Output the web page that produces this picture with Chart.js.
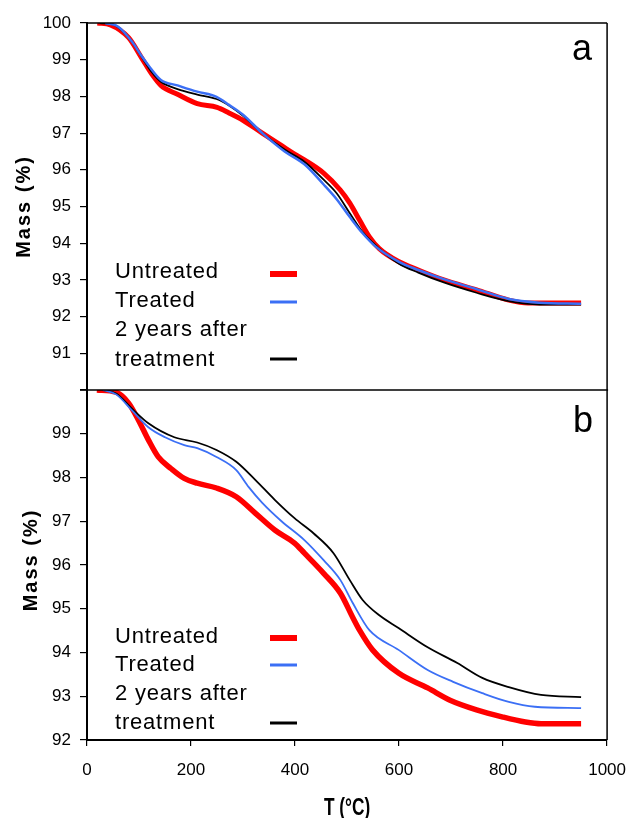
<!DOCTYPE html>
<html>
<head>
<meta charset="utf-8">
<script src="https://cdn.jsdelivr.net/npm/chart.js@4.4.1/dist/chart.umd.min.js"></script>
<style>
  html, body { margin: 0; padding: 0; background: #fff; }
  #wrap { position: relative; width: 640px; height: 818px; }
</style>
</head>
<body>
<div id="wrap"><canvas id="c" width="640" height="818"></canvas></div>
<script>
// ---------- DATA ----------
const seriesNames = ['Untreated', 'Treated', '2 years after treatment'];
const seriesColors = ['#ff0000', '#3b6ff5', '#000000'];
const panelLabels = ['a', 'b'];
const tempTicks = [0, 200, 400, 600, 800, 1000];
const massTicksA = [90, 91, 92, 93, 94, 95, 96, 97, 98, 99, 100];
const massTicksB = [92, 93, 94, 95, 96, 97, 98, 99, 100];

// Panel a
const aUntreatedT = [20, 45, 80, 105, 125, 142, 175, 212, 250, 273, 300, 337, 375, 400, 418, 455, 487, 505, 524, 543, 562, 599, 637, 686, 749, 811, 848, 950];
const aUntreatedM = [100, 99.95, 99.6, 99.05, 98.6, 98.3, 98.05, 97.8, 97.7, 97.55, 97.35, 97.0, 96.65, 96.42, 96.27, 95.91, 95.45, 95.1, 94.63, 94.17, 93.85, 93.5, 93.27, 93.0, 92.73, 92.45, 92.37, 92.37];
const aTreatedT = [35, 60, 86, 105, 118, 142, 174, 212, 249, 273, 300, 337, 380, 418, 455, 480, 505, 530, 554, 599, 637, 686, 749, 811, 870, 950];
const aTreatedM = [100, 99.9, 99.5, 99.1, 98.85, 98.45, 98.3, 98.13, 97.99, 97.77, 97.5, 97.0, 96.5, 96.15, 95.6, 95.2, 94.72, 94.27, 93.92, 93.5, 93.27, 93.02, 92.75, 92.48, 92.38, 92.35];
const a2yearsT = [25, 55, 86, 105, 125, 142, 174, 212, 249, 273, 300, 337, 380, 418, 455, 480, 505, 530, 562, 599, 637, 686, 749, 811, 870, 950];
const a2yearsM = [100, 99.93, 99.5, 99.08, 98.65, 98.4, 98.2, 98.05, 97.93, 97.75, 97.47, 97.0, 96.55, 96.22, 95.73, 95.36, 94.82, 94.3, 93.85, 93.45, 93.2, 92.93, 92.65, 92.42, 92.33, 92.33];

// Panel b
const bUntreatedT = [19, 56, 80, 99, 118, 137, 162, 187, 212, 249, 287, 324, 361, 399, 418, 455, 487, 511, 524, 549, 599, 655, 698, 749, 798, 843, 873, 950];
const bUntreatedM = [100, 99.95, 99.7, 99.31, 98.86, 98.47, 98.2, 97.98, 97.87, 97.76, 97.56, 97.18, 96.8, 96.5, 96.27, 95.81, 95.36, 94.8, 94.51, 94.06, 93.53, 93.19, 92.91, 92.69, 92.53, 92.41, 92.37, 92.37];
const bTreatedT = [30, 56, 86, 118, 150, 187, 212, 249, 287, 311, 337, 374, 418, 455, 487, 511, 543, 599, 655, 704, 760, 811, 861, 950];
const bTreatedM = [100, 99.9, 99.54, 99.15, 98.92, 98.74, 98.67, 98.47, 98.17, 97.78, 97.42, 97.0, 96.57, 96.11, 95.66, 95.13, 94.51, 94.06, 93.6, 93.33, 93.07, 92.87, 92.76, 92.73];
const b2yearsT = [30, 56, 86, 118, 168, 212, 249, 287, 324, 361, 399, 436, 474, 505, 530, 562, 599, 655, 712, 760, 811, 873, 950];
const b2yearsM = [100, 99.92, 99.58, 99.24, 98.92, 98.8, 98.63, 98.36, 97.94, 97.49, 97.07, 96.72, 96.27, 95.66, 95.2, 94.85, 94.56, 94.12, 93.76, 93.42, 93.21, 93.03, 92.98];

// ---------- BUILD ----------
const pts = (T, M) => T.map((t, i) => ({ x: t, y: M[i] }));
const tickFont = { family: "'Liberation Sans Narrow', 'Liberation Sans', Arial, sans-serif", size: 17 };

function ds(label, T, M, color, width, axis, order) {
  return {
    label, data: pts(T, M), borderColor: color, backgroundColor: color,
    borderWidth: width, pointRadius: 0, fill: false,
    cubicInterpolationMode: 'monotone', yAxisID: axis, xAxisID: 'x', order
  };
}

const datasets = [
  ds(seriesNames[1], aTreatedT, aTreatedM, seriesColors[1], 2.5, 'ya', 0),
  ds(seriesNames[2], a2yearsT, a2yearsM, seriesColors[2], 1.8, 'ya', 1),
  ds(seriesNames[0], aUntreatedT, aUntreatedM, seriesColors[0], 5, 'ya', 2),
  ds(seriesNames[1], bTreatedT, bTreatedM, seriesColors[1], 1.8, 'yb', 0),
  ds(seriesNames[2], b2yearsT, b2yearsM, seriesColors[2], 1.8, 'yb', 1),
  ds(seriesNames[0], bUntreatedT, bUntreatedM, seriesColors[0], 5.5, 'yb', 2)
];

function yAxis(min, max, tickList, hideVal, weight) {
  return {
    type: 'linear', position: 'left', stack: 'mass', stackWeight: weight,
    min, max,
    afterBuildTicks: s => { s.ticks = tickList.map(v => ({ value: v })); },
    afterFit: s => { s.width = 87; },
    grid: { drawOnChartArea: false, drawTicks: true, tickLength: 7, color: '#000', lineWidth: 1.2 },
    border: { display: true, color: '#000', width: 2 },
    ticks: { color: '#000', font: tickFont, padding: 9, autoSkip: false,
             callback: v => (v === hideVal ? '' : String(v)) }
  };
}

const framePlugin = {
  id: 'frame',
  afterDraw(chart) {
    const ctx = chart.ctx;
    const ca = chart.chartArea;
    const ya = chart.scales.ya, yb = chart.scales.yb;
    ctx.save();
    ctx.strokeStyle = '#000';
    ctx.lineWidth = 1.5;
    ctx.beginPath();
    ctx.moveTo(ca.left, ya.top); ctx.lineTo(ca.right, ya.top);
    ctx.moveTo(ca.right, ya.top); ctx.lineTo(ca.right, yb.bottom);
    ctx.moveTo(ca.left - 7, ya.bottom); ctx.lineTo(ca.right + 1, ya.bottom);
    ctx.stroke();
    ctx.restore();

    // legends
    const legendText = ['Untreated', 'Treated', '2 years after', 'treatment'];
    function legend(topY, baseOffsets, lineOffsets, widths) {
      ctx.save();
      ctx.fillStyle = '#000';
      ctx.font = "22px 'Liberation Sans', Arial, sans-serif";
      ctx.letterSpacing = '0.8px';
      ctx.textAlign = 'left';
      ctx.textBaseline = 'alphabetic';
      legendText.forEach((t, i) => ctx.fillText(t, ca.left + 28, topY + baseOffsets[i]));
      ctx.letterSpacing = '0px';
      [0, 1, 2].forEach(i => {
        ctx.strokeStyle = seriesColors[i];
        ctx.lineWidth = widths[i];
        ctx.beginPath();
        ctx.moveTo(ca.left + 183, topY + lineOffsets[i]);
        ctx.lineTo(ca.left + 210, topY + lineOffsets[i]);
        ctx.stroke();
      });
      ctx.restore();
    }
    legend(ya.top, [255, 284, 313, 343], [251, 279, 336], [6, 3, 3]);
    legend(yb.top, [253, 281, 310, 339], [248, 275, 333], [6, 3, 3]);

    // panel letters
    ctx.save();
    ctx.fillStyle = '#000';
    ctx.font = "36px 'Liberation Sans', Arial, sans-serif";
    ctx.textAlign = 'right';
    ctx.textBaseline = 'alphabetic';
    ctx.fillText(panelLabels[0], ca.right - 15, ya.top + 37);
    ctx.fillText(panelLabels[1], ca.right - 14, yb.top + 42);
    ctx.restore();

    // y titles
    function yTitle(cx, cy) {
      ctx.save();
      ctx.translate(cx, cy);
      ctx.rotate(-Math.PI / 2);
      ctx.fillStyle = '#000';
      ctx.font = "bold 20px 'Liberation Sans', Arial, sans-serif";
      ctx.letterSpacing = '2px';
      ctx.textAlign = 'center';
      ctx.textBaseline = 'middle';
      ctx.fillText('Mass (%)', 0, 0);
      ctx.restore();
    }
    yTitle(24, (ya.top + ya.bottom) / 2);
    yTitle(31, (yb.top + yb.bottom) / 2 - 5);

    // x title
    ctx.save();
    ctx.translate((ca.left + ca.right) / 2, 808);
    ctx.scale(0.72, 1);
    ctx.fillStyle = '#000';
    ctx.font = "bold 24px 'Liberation Sans', Arial, sans-serif";
    ctx.textAlign = 'center';
    ctx.textBaseline = 'middle';
    ctx.fillText('T (°C)', 0, 0);
    ctx.restore();
  }
};

new Chart(document.getElementById('c'), {
  type: 'line',
  data: { datasets },
  options: {
    responsive: false,
    animation: false,
    devicePixelRatio: 1,
    layout: { padding: { top: 23, right: 19, left: 0, bottom: 0 } },
    plugins: { legend: { display: false }, tooltip: { enabled: false } },
    scales: {
      x: {
        type: 'linear', position: 'bottom', min: 0, max: 1000,
        afterBuildTicks: s => { s.ticks = tempTicks.map(v => ({ value: v })); },
        afterFit: s => { s.height = 78; },
        grid: { drawOnChartArea: false, drawTicks: true, tickLength: 6, color: '#000', lineWidth: 1.2 },
        border: { display: true, color: '#000', width: 2 },
        ticks: { color: '#000', font: tickFont, padding: 14, maxRotation: 0, autoSkip: false,
                 callback: v => String(v) }
      },
      yb: yAxis(92, 100, massTicksB, 100, 350),
      ya: yAxis(90, 100, massTicksA, 90, 367)
    }
  },
  plugins: [framePlugin]
});
</script>
</body>
</html>
